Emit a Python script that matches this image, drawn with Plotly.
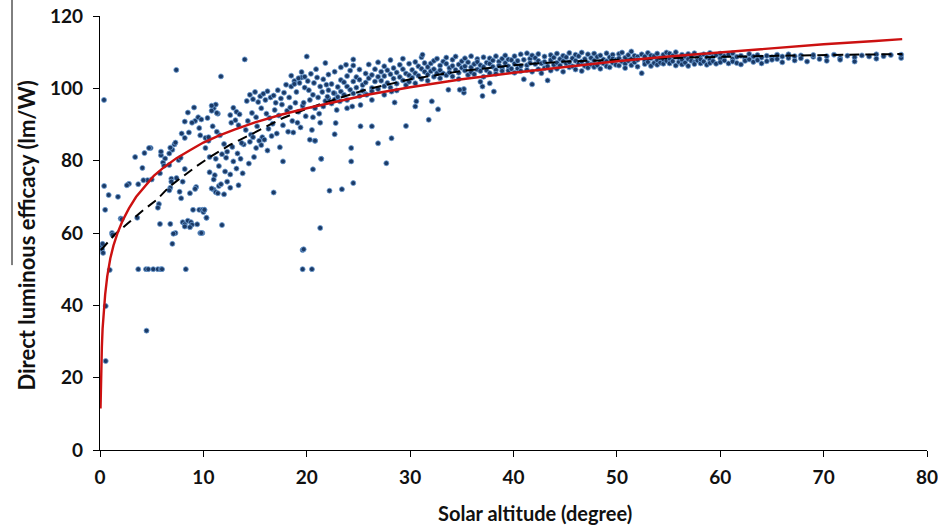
import plotly.graph_objects as go

# ---------------- data ----------------
# scatter points (solar altitude [deg], direct luminous efficacy [lm/W])
pts_low = [
    (0.39, 96.8), (7.38, 105.1), (11.0, 94.5), (11.2, 95.5), (10.8, 93.8), (11.4, 93.0), (9.1, 94.7),
    (8.5, 93.3), (9.2, 91.0), (9.5, 92.0), (9.8, 91.4), (8.9, 90.5), (8.2, 90.8), (9.6, 89.0),
    (7.9, 87.5), (8.6, 87.8), (8.2, 86.3), (10.2, 86.3), (10.5, 85.5), (7.2, 84.5), (7.3, 85.0),
    (7.0, 83.0), (6.8, 83.6), (5.9, 81.5), (5.9, 82.5), (4.9, 83.5), (4.3, 82.1), (3.4, 81.0),
    (6.7, 82.0), (7.6, 80.2), (7.8, 80.8), (4.1, 78.0), (6.7, 78.8), (8.2, 77.7), (11.1, 76.0),
    (6.9, 75.0), (6.9, 74.2), (4.6, 74.6), (5.0, 74.8), (7.4, 75.2), (3.7, 73.5), (2.8, 73.6),
    (2.6, 73.2), (9.3, 72.7), (9.2, 72.2), (6.8, 72.5), (6.7, 71.8), (11.0, 72.0), (11.2, 71.3),
    (11.5, 73.0), (0.4, 73.0), (0.84, 70.5), (1.74, 70.0), (5.7, 68.0), (5.6, 67.0), (0.5, 66.4),
    (9.0, 66.4), (9.6, 66.4), (9.9, 66.4), (10.1, 66.4), (3.6, 64.2), (2.0, 64.0), (10.3, 64.2),
    (5.8, 62.5), (6.8, 62.5), (8.0, 63.0), (8.2, 62.4), (8.5, 63.4), (8.8, 63.0), (8.9, 62.3),
    (9.4, 62.4), (8.7, 61.6), (8.2, 61.8), (7.3, 60.0), (9.9, 60.0), (1.16, 60.0), (7.0, 57.0),
    (0.1, 56.5), (0.2, 55.5), (0.3, 54.5), (0.25, 57.0), (0.94, 49.8), (3.7, 50.0), (4.45, 50.0),
    (4.67, 50.0), (5.15, 50.0), (5.6, 50.0), (5.9, 50.0), (6.0, 50.0), (8.3, 50.0), (19.6, 55.3),
    (19.6, 50.0), (20.5, 50.0), (4.5, 33.0), (0.55, 24.6), (0.55, 39.8), (1.2, 59.5), (2.1, 63.8),
    (4.2, 74.6), (4.74, 83.5), (6.1, 79.5), (6.3, 80.6), (5.8, 76.5), (8.0, 74.2), (7.7, 71.4),
    (8.7, 71.0), (7.85, 69.6), (7.1, 59.8), (9.7, 60.0), (6.2, 78.6),
]

pts_mid_low = [
    (14.2, 96.5), (14.5, 98.2), (14.8, 97.0), (15.0, 99.0), (15.3, 96.2), (15.5, 97.8), (15.8, 98.5),
    (16.0, 96.8), (16.2, 99.2), (16.5, 97.5), (16.8, 98.0), (17.0, 96.0), (17.2, 99.5), (17.5, 97.2),
    (17.8, 98.8), (18.0, 101.0), (18.3, 97.5), (18.5, 100.5), (18.8, 102.0), (19.0, 99.0),
    (19.3, 101.5), (19.5, 103.0), (19.8, 100.2),
    (14.3, 91.0), (14.7, 93.2), (15.1, 92.0), (15.6, 94.5), (16.1, 93.0), (16.4, 91.8), (16.9, 94.0),
    (17.3, 92.5), (17.6, 95.5), (18.1, 93.8), (18.4, 94.7), (18.9, 96.0), (19.2, 93.5), (19.6, 95.2),
    (14.1, 88.5), (14.6, 87.2), (15.2, 89.5), (15.7, 86.5), (16.3, 88.8), (16.7, 90.2), (17.1, 87.5),
    (17.7, 89.8), (18.2, 88.0), (18.6, 91.0), (19.1, 90.5), (19.4, 89.2), (19.9, 92.3),
    (13.9, 84.5), (15.4, 85.5), (16.6, 86.8), (17.4, 83.7), (18.7, 87.8),
    (12.6, 92.6), (12.9, 94.6), (13.2, 93.5), (13.5, 92.8), (12.7, 90.5), (13.1, 91.2), (13.4, 89.8),
    (10.4, 91.8), (10.8, 95.2), (11.3, 93.2), (10.9, 89.5), (11.3, 88.0), (11.6, 87.0), (11.7, 103.3),
    (14.0, 108.0), (12.0, 84.6), (12.3, 82.5), (12.8, 83.8), (13.3, 82.0), (13.7, 84.9), (12.2, 80.8),
    (12.9, 79.8), (13.6, 80.5), (14.4, 79.2), (14.9, 81.0), (11.5, 78.5), (12.1, 77.0), (12.6, 76.2),
    (13.2, 77.8), (13.8, 76.5), (11.2, 80.5), (11.8, 81.8), (10.6, 76.8), (11.0, 74.8), (11.7, 73.5),
    (12.3, 74.2), (10.8, 72.3), (11.4, 71.0), (12.0, 70.7), (12.6, 72.5), (13.4, 73.2), (16.8, 71.2),
    (17.7, 79.8), (14.5, 85.2), (15.1, 83.5), (15.6, 84.3), (16.2, 82.8), (14.8, 86.5), (15.9, 85.8),
    (10.0, 65.8), (10.1, 66.4), (10.3, 64.2), (11.8, 62.2), (9.8, 60.0), (10.6, 81.0), (10.2, 83.5),
    (10.5, 86.5), (9.7, 87.0),
    (19.5, 104.5), (19.8, 103.2), (20.1, 102.0), (20.4, 104.0), (20.7, 101.5), (21.0, 103.0),
    (21.3, 100.5), (21.6, 102.5), (21.9, 101.0), (20.2, 99.5), (20.6, 98.2), (21.1, 97.5), (21.5, 99.0),
    (21.8, 96.5), (20.0, 108.8), (21.8, 107.0), (20.9, 105.3), (19.2, 102.8), (18.5, 103.5),
    (18.8, 101.2), (20.3, 96.8), (20.8, 94.5), (21.2, 93.0), (21.6, 95.0), (20.6, 92.0), (21.3, 90.5),
    (20.5, 88.5), (19.7, 96.0), (20.3, 85.8), (20.8, 85.5), (21.4, 80.5), (20.6, 77.6), (21.3, 61.4),
    (19.7, 55.5),
]

pts_mid = [
    (22.1, 99.5), (22.1, 97.2), (22.1, 103.8), (22.4, 101.2), (22.4, 95.8), (22.7, 98.6), (22.7, 104.6),
    (22.7, 96.9), (23.0, 100.4), (23.0, 97.6), (23.3, 102.3), (23.3, 99.1), (23.3, 105.8), (23.6, 98.2),
    (23.6, 101.7), (23.9, 103.4), (23.9, 100.5), (23.9, 96.8), (24.2, 99.6), (24.2, 104.9),
    (24.5, 101.9), (24.5, 98.6), (24.5, 106.3), (24.8, 100.2), (24.8, 103.1), (25.1, 97.9),
    (25.1, 102.4), (25.1, 105.2), (25.4, 100.9), (25.4, 99.3), (25.7, 104.1), (25.7, 101.6),
    (25.7, 98.4), (26.0, 102.8), (26.0, 106.6), (26.3, 100.1), (26.3, 103.7), (26.3, 99.2),
    (26.6, 105.3), (26.6, 101.9), (26.9, 99.8), (26.9, 103.2), (26.9, 107.2), (27.2, 102.1),
    (27.2, 104.6), (27.5, 100.6), (27.5, 106.1), (27.5, 103.4), (27.8, 101.5), (27.8, 105.0),
    (28.1, 103.9), (28.1, 100.2), (28.1, 107.8), (28.4, 102.7), (28.4, 105.6), (28.7, 104.4),
    (28.7, 101.3), (28.7, 99.4), (29.0, 106.5), (29.0, 103.1), (29.3, 102.2), (29.3, 105.3),
    (29.3, 108.2), (29.6, 104.1), (29.6, 100.9), (29.9, 106.8), (29.9, 103.6), (29.9, 101.8),
    (30.2, 105.1), (30.2, 102.9), (30.5, 107.3), (30.5, 104.2), (30.5, 101.4), (30.8, 103.5),
    (30.8, 106.1), (31.1, 105.4), (31.1, 102.6), (31.1, 108.6), (31.4, 104.6), (31.4, 107.0),
    (31.7, 102.1), (31.7, 105.9), (31.7, 103.8), (32.0, 106.9), (32.0, 104.7), (32.3, 103.2),
    (32.3, 107.6), (32.3, 105.3), (32.6, 104.2), (32.6, 108.2), (32.9, 106.3), (32.9, 102.8),
    (32.9, 105.0), (33.2, 107.4), (33.2, 104.1), (33.5, 103.6), (33.5, 106.8), (33.5, 108.5),
    (33.8, 105.6), (33.8, 104.4), (34.1, 107.9), (34.1, 103.3), (34.1, 106.2), (34.4, 105.1),
    (34.4, 108.8), (34.7, 104.3), (34.7, 106.6), (34.7, 102.6), (35.0, 107.5), (35.0, 105.7),
    (35.3, 104.9), (35.3, 108.3), (35.3, 106.1), (35.6, 103.7), (35.6, 107.2), (35.9, 105.8),
    (35.9, 108.9), (35.9, 104.5), (36.2, 106.7), (36.2, 103.9), (36.5, 105.2), (36.5, 108.1),
    (36.5, 107.3), (36.8, 104.8), (36.8, 106.4), (37.1, 108.6), (37.1, 105.9), (37.1, 103.2),
    (37.4, 107.1), (37.4, 105.0), (37.7, 104.2), (37.7, 108.3), (37.7, 106.8), (38.0, 106.0),
    (38.0, 107.7), (38.3, 105.1), (38.3, 108.9), (38.3, 104.0), (38.6, 107.4), (38.6, 106.3),
    (38.9, 105.6), (38.9, 108.2), (38.9, 104.8), (39.2, 107.0), (39.2, 109.1), (39.5, 106.1),
    (39.5, 104.9), (39.5, 108.0), (39.8, 107.8), (39.8, 105.4),
    (22.8, 90.4), (25.2, 89.5), (26.3, 89.5), (29.6, 89.6), (31.8, 91.3), (22.7, 87.3), (28.2, 86.2),
    (26.9, 84.8), (24.3, 83.5), (21.4, 80.5), (24.3, 79.8), (27.7, 79.3), (24.5, 73.8), (22.2, 71.7),
    (23.4, 72.1), (20.8, 85.5), (28.5, 96.1), (30.5, 95.0), (30.6, 96.4), (32.7, 94.2), (33.7, 99.6),
    (35.2, 98.8), (35.2, 99.8), (37.0, 97.9), (38.1, 99.1), (37.0, 100.5), (37.7, 101.4),
    (36.8, 101.8), (31.2, 109.3), (24.5, 108.0), (23.8, 106.5), (22.0, 97.7), (22.6, 98.7),
    (23.9, 94.5), (24.4, 95.0), (25.2, 95.4), (26.3, 96.8), (27.5, 98.2), (28.2, 99.1), (32.1, 96.4),
    (34.8, 99.6), (22.9, 94.0), (23.2, 96.4), (25.8, 98.2),
]

pts_high = [
    (40.1, 106.8), (40.1, 104.3), (40.1, 108.9), (40.4, 107.6), (40.4, 105.5), (40.7, 109.4),
    (40.7, 106.2), (40.7, 104.8), (41.0, 102.5), (41.0, 107.9), (41.3, 109.7), (41.3, 106.4),
    (41.3, 105.1), (41.6, 108.2), (41.6, 107.0), (41.8, 101.1), (41.8, 104.6), (41.8, 109.1),
    (42.1, 106.7), (42.1, 108.4), (42.4, 105.3), (42.4, 107.6), (42.4, 109.5), (42.7, 104.2),
    (42.7, 106.9), (43.0, 108.8), (43.0, 107.3), (43.0, 105.6), (43.3, 102.2), (43.3, 106.1),
    (43.6, 109.2), (43.6, 107.8), (43.6, 104.9), (43.9, 106.5), (43.9, 108.5), (44.2, 105.4),
    (44.2, 107.1), (44.2, 109.6), (44.5, 108.1), (44.5, 106.3), (44.8, 104.6), (44.8, 109.0),
    (44.8, 107.5), (45.1, 106.9), (45.1, 108.6), (45.4, 105.8), (45.4, 109.8), (45.4, 107.2),
    (45.7, 108.3), (45.7, 106.1), (46.0, 107.6), (46.0, 105.2), (46.0, 109.3), (46.3, 108.9),
    (46.3, 106.8), (46.6, 107.4), (46.6, 104.8), (46.6, 109.9), (46.9, 106.2), (46.9, 108.1),
    (47.2, 109.4), (47.2, 107.0), (47.2, 105.7), (47.5, 108.4), (47.5, 106.6), (47.8, 107.7),
    (47.8, 109.6), (47.8, 105.9), (48.1, 106.4), (48.1, 108.7), (48.4, 109.1), (48.4, 107.3),
    (48.4, 105.4), (48.7, 108.0), (48.7, 106.9), (49.0, 107.5), (49.0, 109.7), (49.0, 106.1),
    (49.3, 108.6), (49.3, 105.8), (49.6, 107.1), (49.6, 109.3), (49.6, 108.2), (49.9, 106.5),
    (49.9, 107.8), (50.2, 109.5), (50.2, 108.3), (50.2, 106.3), (50.5, 107.4), (50.5, 109.9),
    (50.8, 106.8), (50.8, 108.5), (50.8, 105.6), (51.1, 109.2), (51.1, 107.6), (51.4, 108.1),
    (51.4, 106.4), (51.4, 110.2), (51.7, 107.2), (51.7, 109.0), (52.0, 108.7), (52.0, 106.0),
    (52.0, 107.9), (52.4, 104.2), (52.4, 109.4), (52.7, 107.6), (52.7, 108.8), (52.7, 106.7),
    (53.0, 109.8), (53.0, 107.3), (53.3, 108.3), (53.3, 106.2), (53.3, 109.1), (53.6, 107.0),
    (53.6, 108.9), (53.9, 109.6), (53.9, 107.8), (53.9, 106.5), (54.2, 108.4), (54.2, 107.1),
    (54.5, 106.8), (54.5, 109.3), (54.5, 108.0), (54.8, 107.6), (54.8, 109.9),
]

pts_tail = [
    (55.1, 108.2), (55.1, 106.9), (55.1, 109.6), (55.4, 107.5), (55.4, 109.0), (55.7, 108.7),
    (55.7, 106.3), (55.7, 110.0), (56.0, 107.3), (56.0, 108.5), (56.3, 109.3), (56.3, 107.9),
    (56.3, 106.6), (56.6, 108.8), (56.6, 107.1), (56.9, 106.2), (56.9, 109.5), (56.9, 108.1),
    (57.2, 107.6), (57.2, 108.9), (57.5, 109.7), (57.5, 107.2), (57.5, 106.7), (57.8, 108.4),
    (57.8, 107.7), (58.1, 109.1), (58.1, 106.9), (58.1, 108.0), (58.4, 107.4), (58.4, 109.4),
    (58.7, 108.6), (58.7, 106.5), (59.0, 107.9), (59.0, 109.8), (59.0, 107.0), (59.3, 108.8),
    (59.3, 107.5), (59.6, 106.8), (59.6, 109.2), (60.0, 108.3), (60.0, 107.2), (60.0, 109.6),
    (60.4, 107.7), (60.4, 108.9), (60.8, 109.3), (60.8, 106.9), (61.2, 108.1), (61.2, 107.4),
    (61.2, 109.7), (61.6, 108.7), (61.6, 107.0), (62.0, 106.6), (62.0, 109.0), (62.4, 108.4),
    (62.4, 107.6), (62.8, 109.5), (62.8, 108.0), (63.2, 107.3), (63.2, 108.8), (63.6, 109.2),
    (63.6, 107.8), (64.0, 108.5), (64.0, 106.9), (64.5, 107.5), (64.5, 109.0), (65.0, 108.6),
    (65.0, 107.9), (65.5, 109.3), (65.5, 108.1), (66.0, 107.2), (66.0, 108.8), (66.6, 108.4),
    (66.6, 109.4), (67.2, 107.7), (67.2, 108.9), (67.8, 109.1), (67.8, 108.3), (68.4, 107.4),
    (69.0, 108.7), (69.0, 109.2), (69.6, 108.1), (70.3, 108.9), (70.3, 107.6), (71.0, 109.3),
    (71.6, 108.4), (71.6, 107.9), (72.3, 109.0), (73.0, 108.6), (73.0, 107.4), (73.7, 109.1),
    (74.4, 108.8), (75.1, 109.4), (75.1, 108.2), (75.8, 108.9), (76.5, 109.2), (77.5, 108.4),
    (77.5, 109.3),
]

# red fitted curve
red_x = [0.05, 0.08, 0.12, 0.18, 0.25, 0.35, 0.5, 0.7, 1.0, 1.3, 1.7, 2.2, 2.8, 3.5, 4.3, 5.2,
         6.2, 7.4, 8.7, 10, 11.5, 13, 15, 17.5, 20, 23, 26, 30, 35, 40, 45, 50, 55, 60, 65, 70,
         75, 77.6]
red_y = [11.5, 18, 23.5, 28.5, 33.5, 38, 43, 48, 53, 56.5, 60, 63.5, 66.8, 70, 72.8, 75.8,
         78.2, 80.7, 82.9, 85, 86.9, 88.6, 90.6, 92.7, 94.5, 96.5, 98.3, 100.3, 102.5, 104.3,
         106, 107.5, 108.8, 110, 111.1, 112.2, 113.1, 113.6]

# black dashed curve
blk_x = [0.1, 1.4, 2.7, 4, 5.5, 6.7, 8, 9.3, 10.7, 12.6, 14.5, 16.1, 17.7, 19.3, 21.6, 25.8, 30,
         35, 40, 45, 51.5, 58, 66, 72, 77.6]
blk_y = [55.3, 59.5, 62.7, 65.9, 69.2, 72.8, 75.6, 78.4, 81.1, 84.4, 87.1, 89.4, 91.8, 93.6, 95.9,
         99.7, 102.5, 104.8, 106.4, 107.4, 108.1, 108.6, 109.0, 109.3, 109.5]

x_ticks = [0, 10, 20, 30, 40, 50, 60, 70, 80]
y_ticks = [0, 20, 40, 60, 80, 100, 120]

# ---------------- figure ----------------
all_pts = pts_low + pts_mid_low + pts_mid + pts_high + pts_tail
sx = [p[0] for p in all_pts]
sy = [p[1] for p in all_pts]

FONT = "Lato, 'Open Sans', sans-serif"

fig = go.Figure()
fig.add_trace(go.Scatter(
    x=sx, y=sy, mode="markers",
    marker=dict(size=5, color="#1b3a66", line=dict(width=0.8, color="#6f9fd6")),
    hoverinfo="skip", showlegend=False))
fig.add_trace(go.Scatter(
    x=blk_x, y=blk_y, mode="lines", line=dict(color="black", width=2, dash="10px,6px"),
    showlegend=False))
fig.add_trace(go.Scatter(
    x=red_x, y=red_y, mode="lines", line=dict(color="#cc1111", width=2.4),
    showlegend=False))

axis_common = dict(showgrid=False, zeroline=False, showline=True, linecolor="black", linewidth=1.3,
                   ticks="outside", ticklen=6, tickwidth=1.3, tickcolor="black",
                   ticklabeloverflow="allow", automargin=False,
                   tickfont=dict(family=FONT, size=19, color="#111"))

fig.update_xaxes(range=[0, 80], tickvals=x_ticks, ticktext=[f"<b>{v}</b>" for v in x_ticks],
                 ticklabelstandoff=4, **axis_common)
fig.update_yaxes(range=[0, 120], tickvals=y_ticks, ticktext=[f"<b>{v}</b>" for v in y_ticks],
                 ticklabelstandoff=6, **axis_common)

fig.add_annotation(text="<b>Solar altitude (degree)</b>", xref="paper", yref="paper",
                   x=0.526, y=-0.145, xanchor="center", yanchor="middle", showarrow=False,
                   font=dict(family=FONT, size=20, color="#111"))
fig.add_annotation(text="<b>Direct luminous efficacy (lm/W)</b>", xref="paper", yref="paper",
                   x=-0.089, y=0.495, xanchor="center", yanchor="middle", textangle=-90,
                   showarrow=False, font=dict(family=FONT, size=22, color="#111"))
# thin vertical rule at the far left of the original image
fig.add_shape(type="line", xref="paper", yref="paper", x0=-0.1064, x1=-0.1064, y0=0.426, y1=1.037,
              line=dict(color="black", width=1))

fig.update_layout(width=938, height=528, margin=dict(l=100, r=11, t=16, b=78, autoexpand=False),
                  plot_bgcolor="white", paper_bgcolor="white")

fig.write_html("out.html")
